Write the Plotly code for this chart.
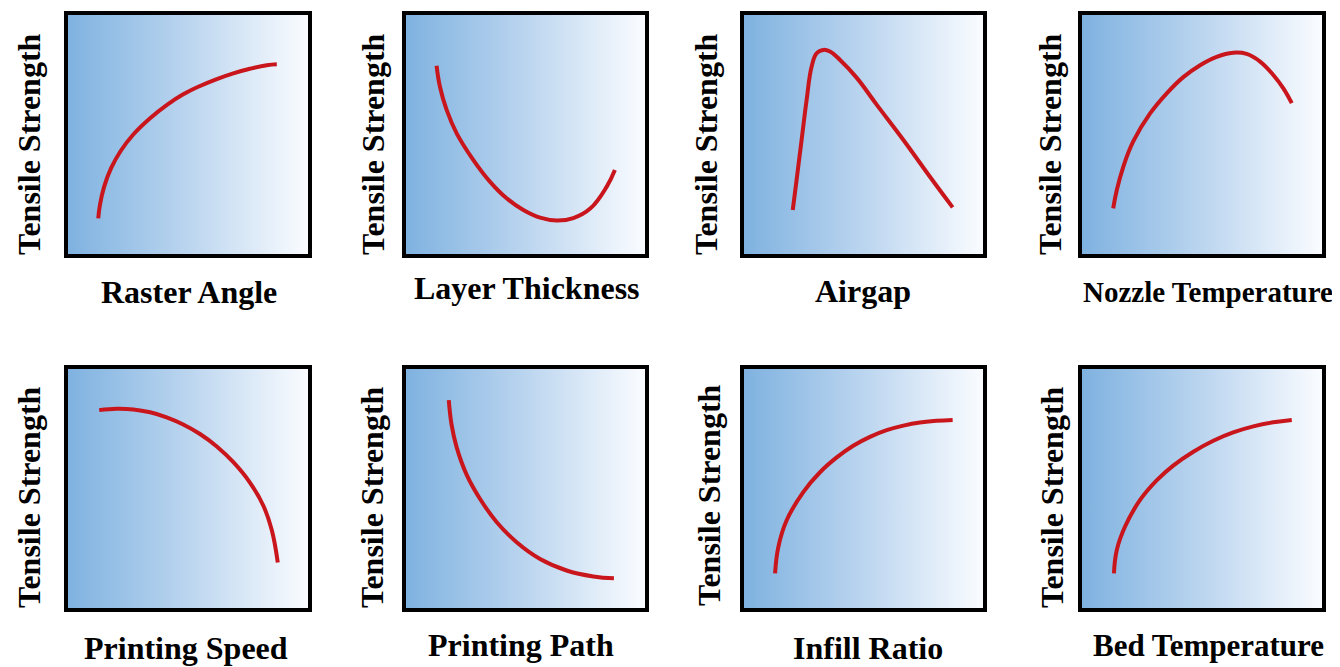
import plotly.graph_objects as go

# page body has an 8px margin, so the figure is drawn 8px smaller and all
# pixel positions below are given in window coordinates
OFF = 8
W, H = 1340 - OFF, 667 - OFF

# ---- data (normalised parameter level vs normalised tensile strength) ----
x_titles = ["Raster Angle", "Layer Thickness", "Airgap", "Nozzle Temperature",
            "Printing Speed", "Printing Path", "Infill Ratio", "Bed Temperature"]
y_title = "Tensile Strength"

raster_x = [0.126, 0.133, 0.150, 0.180, 0.220, 0.272, 0.342, 0.411, 0.480, 0.550, 0.620, 0.689, 0.758, 0.828, 0.870]
raster_y = [0.149, 0.205, 0.280, 0.360, 0.432, 0.500, 0.568, 0.623, 0.668, 0.703, 0.732, 0.756, 0.775, 0.790, 0.794]

layer_x = [0.128, 0.142, 0.170, 0.212, 0.282, 0.351, 0.421, 0.491, 0.561, 0.631, 0.700, 0.772, 0.840, 0.874]
layer_y = [0.788, 0.700, 0.603, 0.505, 0.393, 0.303, 0.233, 0.184, 0.152, 0.140, 0.150, 0.191, 0.282, 0.351]

airgap_x = [0.204, 0.220, 0.241, 0.262, 0.283, 0.304, 0.332, 0.360, 0.402, 0.471, 0.555, 0.667, 0.778, 0.873]
airgap_y = [0.184, 0.310, 0.477, 0.644, 0.784, 0.840, 0.854, 0.847, 0.812, 0.738, 0.625, 0.477, 0.323, 0.195]

nozzle_x = [0.130, 0.145, 0.172, 0.214, 0.283, 0.353, 0.422, 0.492, 0.561, 0.630, 0.686, 0.742, 0.797, 0.839, 0.874]
nozzle_y = [0.191, 0.268, 0.365, 0.472, 0.587, 0.672, 0.740, 0.790, 0.825, 0.842, 0.837, 0.805, 0.749, 0.693, 0.631]

speed_x = [0.130, 0.203, 0.272, 0.342, 0.411, 0.480, 0.550, 0.620, 0.689, 0.758, 0.814, 0.849, 0.874]
speed_y = [0.828, 0.834, 0.831, 0.819, 0.798, 0.768, 0.728, 0.676, 0.610, 0.525, 0.428, 0.326, 0.190]

path_x = [0.179, 0.191, 0.212, 0.254, 0.310, 0.379, 0.463, 0.561, 0.672, 0.784, 0.870]
path_y = [0.870, 0.765, 0.672, 0.557, 0.456, 0.360, 0.275, 0.205, 0.157, 0.132, 0.124]

infill_x = [0.130, 0.144, 0.179, 0.248, 0.318, 0.388, 0.457, 0.527, 0.597, 0.667, 0.736, 0.806, 0.873]
infill_y = [0.145, 0.257, 0.368, 0.485, 0.568, 0.630, 0.679, 0.716, 0.744, 0.763, 0.776, 0.783, 0.787]

bed_x = [0.133, 0.145, 0.179, 0.242, 0.311, 0.380, 0.464, 0.547, 0.630, 0.714, 0.797, 0.874]
bed_y = [0.145, 0.243, 0.340, 0.452, 0.534, 0.596, 0.654, 0.700, 0.735, 0.760, 0.777, 0.787]

series = [(raster_x, raster_y), (layer_x, layer_y), (airgap_x, airgap_y), (nozzle_x, nozzle_y),
          (speed_x, speed_y), (path_x, path_y), (infill_x, infill_y), (bed_x, bed_y)]

# ---- layout geometry (window pixels) ----
col_left = [68, 406, 744, 1082]
col_right = [308, 645, 983, 1322]
row_top = [15, 369]
row_bottom = [254, 608]

ylab_x = [29, 373, 706, 1050, 29, 372, 709, 1052]
ylab_y = [144, 144, 144, 144, 497, 497, 495, 497]
xlab_x = [189, 527, 863, 1208, 186, 521, 868, 1208]
xlab_y = [292, 288, 291, 292, 648, 645, 648, 645]
xlab_size = [32, 32, 32, 29, 32, 32, 32, 31]

def fx(px):
    return (px - OFF) / W

def fy(py):
    return 1 - (py - OFF) / H

fig = go.Figure()
layout = dict(width=W, height=H, margin=dict(l=0, r=0, t=0, b=0),
              paper_bgcolor="white", plot_bgcolor="white", showlegend=False)
annotations = []
font_family = "Liberation Serif, Times New Roman, serif"

for i, (xs, ys) in enumerate(series):
    r, c = divmod(i, 4)
    n = "" if i == 0 else str(i + 1)
    xa, ya = "x" + n, "y" + n
    axis_common = dict(range=[0, 1], showgrid=False, zeroline=False, showticklabels=False,
                       ticks="", showline=True, linewidth=4, linecolor="black", mirror=True,
                       fixedrange=True)
    layout["xaxis" + n] = dict(domain=[fx(col_left[c]), fx(col_right[c])], anchor=ya, **axis_common)
    layout["yaxis" + n] = dict(domain=[fy(row_bottom[r]), fy(row_top[r])], anchor=xa, **axis_common)

    fig.add_trace(go.Scatter(
        x=[0, 1, 1, 0, 0], y=[0, 0, 1, 1, 0], xaxis=xa, yaxis=ya,
        mode="lines", line=dict(width=0), fill="toself",
        fillgradient=dict(type="horizontal",
                          colorscale=[[0, "#7fb2e0"], [0.5, "#bbd5ef"], [1, "#fafcff"]]),
        hoverinfo="skip"))
    fig.add_trace(go.Scatter(
        x=xs, y=ys, xaxis=xa, yaxis=ya, mode="lines",
        line=dict(color="#c9161c", width=4, shape="spline", smoothing=1.2),
        hoverinfo="skip"))

    annotations.append(dict(text="<b>" + y_title + "</b>", xref="paper", yref="paper",
                            x=fx(ylab_x[i]), y=fy(ylab_y[i]), xanchor="center", yanchor="middle",
                            textangle=-90, showarrow=False,
                            font=dict(family=font_family, size=32, color="black")))
    annotations.append(dict(text="<b>" + x_titles[i] + "</b>", xref="paper", yref="paper",
                            x=fx(xlab_x[i]), y=fy(xlab_y[i]), xanchor="center", yanchor="middle",
                            showarrow=False,
                            font=dict(family=font_family, size=xlab_size[i], color="black")))

layout["annotations"] = annotations
fig.update_layout(**layout)
fig.write_html("out.html")
